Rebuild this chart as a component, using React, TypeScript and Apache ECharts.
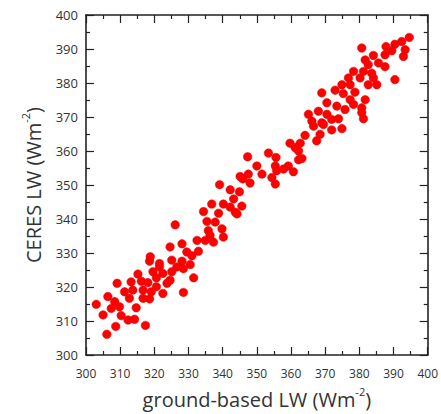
import React, { useEffect, useRef } from "react";
import * as echarts from "echarts";

// ground-based LW (x) and CERES LW (y), W m^-2
const groundLW: number[] = [
  318.6, 321.5, 315.2, 319.6, 322.5, 309.1, 313.2, 316.2, 318.1, 320.6, 320.6, 311.3, 313.7, 316.7, 319.1, 322.5,
  312.7, 316.7, 318.6, 306.4, 303.0, 308.4, 309.8, 307.4, 314.7, 305.0, 310.3, 312.3, 314.2, 308.7, 317.4, 306.1,
  326.1, 335.8, 335.4, 337.8, 332.5, 334.9, 337.3, 328.1, 324.6, 329.5, 332.9, 331.0, 318.8, 325.1, 328.1, 330.5,
  326.6, 328.5, 325.1, 324.6, 331.5, 323.7, 328.5, 321.5,
  345.1, 347.5, 351.5, 348.0, 345.9, 339.1, 342.2, 344.9, 343.2, 336.8, 340.2, 342.2, 345.6, 334.4, 338.8, 343.7,
  344.2, 340.2, 339.8, 336.3, 347.3,
  366.1, 369.0, 364.1, 368.5, 367.5, 359.7, 362.7, 361.2, 362.2, 362.2, 363.2, 353.4, 355.6, 350.0, 355.4, 359.2,
  357.8, 355.8, 360.7, 354.4, 355.4,
  366.6, 369.5,
  378.3, 381.2, 383.6, 376.8, 380.2, 382.6, 385.1, 374.9, 377.3, 372.9, 375.3, 369.0, 378.7, 381.7, 377.3, 370.5,
  373.4, 375.8, 378.3, 380.7, 380.7, 365.1, 368.0, 370.5, 371.9, 373.9, 381.2, 371.9, 374.9,
  384.1, 394.6, 392.4, 390.4, 387.8, 393.4, 380.7, 389.5, 387.5, 392.9, 381.7, 384.1, 385.6, 387.5, 382.6, 390.4,
];

const ceresLW: number[] = [
  327.6, 326.9, 323.8, 324.5, 324.0, 321.1, 321.5, 321.7, 321.3, 322.7, 320.1, 318.6, 319.1, 319.1, 318.6, 318.1,
  316.7, 316.7, 316.5, 317.2, 314.9, 315.7, 314.2, 313.7, 313.9, 311.8, 311.6, 310.3, 310.5, 308.4, 308.7, 306.1,
  338.3, 336.6, 339.3, 339.1, 333.7, 333.7, 333.2, 332.7, 331.8, 330.3, 330.5, 329.2, 328.9, 327.9, 327.6, 326.6,
  325.9, 325.4, 324.5, 322.0, 322.7, 321.1, 318.4, 325.9,
  352.5, 353.2, 353.2, 350.6, 351.8, 350.1, 348.6, 348.0, 345.9, 344.4, 344.4, 343.5, 343.8, 342.2, 341.7, 342.0,
  341.5, 334.7, 337.1, 335.2, 358.3,
  368.8, 368.3, 364.6, 364.9, 363.0, 362.3, 362.3, 361.0, 360.0, 357.4, 357.8, 359.4, 358.1, 355.6, 355.6, 355.6,
  354.7, 354.2, 353.9, 352.2, 350.3,
  367.3, 367.8,
  383.4, 383.4, 382.9, 381.5, 381.5, 379.5, 379.5, 379.5, 379.5, 377.9, 376.9, 377.1, 377.3, 375.1, 375.1, 374.2,
  373.2, 372.2, 373.7, 372.7, 371.3, 370.8, 371.7, 370.8, 369.3, 369.5, 369.5, 366.2, 366.6,
  381.5, 393.4, 392.2, 391.4, 390.7, 389.8, 390.3, 389.5, 388.3, 387.8, 386.8, 388.1, 385.9, 384.8, 385.4, 381.0,
];

const axisMin = 300;
const axisMax = 400;
const axisStep = 10;
const xTitle = "{a|ground-based LW (Wm}{s|-2}{a|)}";
const yTitle = "{a|CERES LW (Wm}{s|-2}{a|)}";

const FONT = "Open Sans";
const INK = "#222222";
const TEXT = "#333333";

function axisBase(showLabel: boolean, labelSize: number) {
  return {
    type: "value" as const,
    min: axisMin,
    max: axisMax,
    interval: axisStep,
    axisLine: { show: true, onZero: false, lineStyle: { color: INK, width: 1.6 } },
    axisTick: { show: true, inside: true, length: 8, lineStyle: { color: INK, width: 1.2 } },
    minorTick: { show: true, splitNumber: 2, length: 4, lineStyle: { color: INK, width: 1.2 } },
    splitLine: { show: false },
    minorSplitLine: { show: false },
    axisLabel: { show: showLabel, color: TEXT, fontSize: labelSize, fontFamily: FONT },
  };
}

const titleRich = {
  a: { fontSize: 20, fontFamily: FONT, color: TEXT, lineHeight: 26 },
  s: { fontSize: 11, fontFamily: FONT, color: TEXT, verticalAlign: "top" as const, lineHeight: 26 },
};

export default function App() {
  const ref = useRef<HTMLDivElement>(null);
  useEffect(() => {
    if (!ref.current) return;
    const chart = echarts.init(ref.current, undefined, { renderer: "svg" });
    const data = groundLW.map((x, i) => [x, ceresLW[i]]);
    chart.setOption({
      animation: false,
      backgroundColor: "#ffffff",
      grid: { left: 86, right: 13, top: 15, bottom: 57 },
      xAxis: [
        {
          ...axisBase(true, 12),
          position: "bottom",
          name: xTitle,
          nameLocation: "middle",
          nameGap: 31,
          nameTextStyle: { rich: titleRich },
          axisLabel: { ...axisBase(true, 12).axisLabel, margin: 12 },
        },
        { ...axisBase(false, 12), position: "top" },
      ],
      yAxis: [
        {
          ...axisBase(true, 13),
          position: "left",
          name: yTitle,
          nameLocation: "middle",
          nameGap: 40,
          nameTextStyle: { rich: titleRich },
          axisLabel: { ...axisBase(true, 13).axisLabel, margin: 8 },
        },
        { ...axisBase(false, 13), position: "right" },
      ],
      series: [
        {
          type: "scatter",
          xAxisIndex: 0,
          yAxisIndex: 0,
          data,
          symbol: "circle",
          symbolSize: 8.5,
          itemStyle: { color: "#ff0000", borderColor: "#e00000", borderWidth: 0.5, opacity: 1 },
        },
      ],
    });
    return () => chart.dispose();
  }, []);
  return <div ref={ref} style={{ width: 441, height: 414, position: "absolute", left: 0, top: 0 }} />;
}
